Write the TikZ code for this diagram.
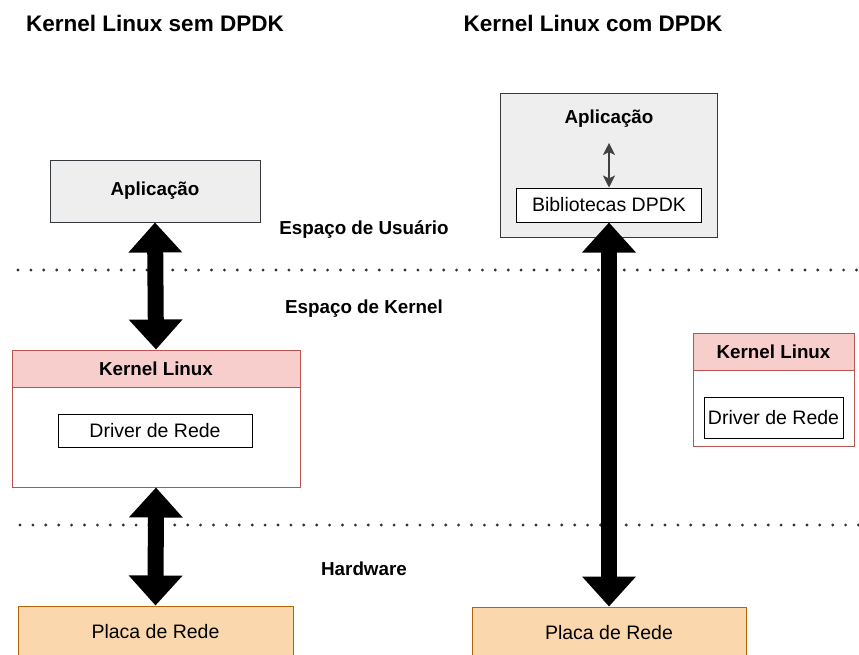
\documentclass[tikz,border=0pt]{standalone}
\usepackage{fontspec}
\setmainfont{Liberation Sans}
\usetikzlibrary{arrows.meta}
\definecolor{grayfill}{HTML}{EEEEEE}
\definecolor{graydraw}{HTML}{36393D}
\definecolor{redfill}{HTML}{F8CECC}
\definecolor{reddraw}{HTML}{B85450}
\definecolor{orangefill}{HTML}{FAD7AC}
\definecolor{orangedraw}{HTML}{B46504}
\begin{document}
\begin{tikzpicture}[x=1pt,y=-1pt,
  box/.style={draw, rectangle, inner sep=0pt, line width=1pt},
  appbox/.style={box, fill=grayfill, draw=graydraw},
  whitebox/.style={box, fill=white, draw=black},
  kerbox/.style={box, fill=white, draw=reddraw},
  kerhead/.style={box, fill=redfill, draw=reddraw},
  nicbox/.style={box, fill=orangefill, draw=orangedraw},
  ttl/.style={font=\fontsize{22.5}{26}\selectfont\bfseries},
  lbl/.style={font=\fontsize{18.8}{22}\selectfont\bfseries},
  txt/.style={font=\fontsize{19.5}{23}\selectfont},
  fat/.style={line width=16pt, {Triangle[width=52pt,length=30pt]}-{Triangle[width=52pt,length=30pt]}},
  thin/.style={line width=1.3pt, draw=black!75, {Stealth[width=12pt,length=12pt,inset=3pt]}-{Stealth[width=12pt,length=12pt,inset=3pt]}},
  dots/.style={line width=3.2pt, dash pattern=on 0pt off 12.9pt, line cap=round, draw=black!80}]
\useasboundingbox (0,0) rectangle (859,654);
\clip (0,0) rectangle (859,654);

% titles
\node[ttl] (tl) at (155,23) {Kernel Linux sem DPDK};
\node[ttl] (tr) at (593,23) {Kernel Linux com DPDK};

% dotted separators
\coordinate (d1a) at (18,270);
\coordinate (d1b) at (862,270);
\coordinate (d2a) at (20,525);
\coordinate (d2b) at (862,525);
\draw[dots] (d1a) -- (d1b);
\draw[dots] (d2a) -- (d2b);

% layer labels
\node[lbl] (us) at (364,230) {Espaço de Usuário};
\node[lbl] (ks) at (364,309) {Espaço de Kernel};
\node[lbl] (hw) at (364,569) {Hardware};

% left stack
\node[appbox, minimum width=210pt, minimum height=62pt] (appL) at (155,191) {};
\node[lbl] (appLt) at (appL) {Aplicação};
\node[kerbox, minimum width=288pt, minimum height=137pt] (kerL) at (156,418.5) {};
\node[kerhead, minimum width=288pt, minimum height=37pt] (kerLh) at (156,368.5) {};
\node[lbl] (kerLt) at (kerLh) {Kernel Linux};
\node[whitebox, minimum width=194pt, minimum height=33pt] (drvL) at (155,430.5) {};
\node[txt] (drvLt) at (drvL) {Driver de Rede};
\node[nicbox, minimum width=275pt, minimum height=52pt] (nicL) at (155.5,632) {};
\node[txt] (nicLt) at (nicL) {Placa de Rede};

% right stack
\node[appbox, minimum width=217pt, minimum height=144pt] (appR) at (608.5,165) {};
\node[lbl] (appRt) at (609,119) {Aplicação};
\node[whitebox, minimum width=185pt, minimum height=34pt] (bib) at (609,205) {};
\node[txt] (bibt) at (bib) {Bibliotecas DPDK};
\coordinate (smtop) at (609,143);
\node[kerbox, minimum width=161pt, minimum height=113pt] (kerR) at (773.5,389.5) {};
\node[kerhead, minimum width=161pt, minimum height=37pt] (kerRh) at (773.5,351.5) {};
\node[lbl] (kerRt) at (kerRh) {Kernel Linux};
\node[whitebox, minimum width=139pt, minimum height=41pt] (drvR) at (773.5,417.5) {};
\node[txt] (drvRt) at (drvR) {Driver de Rede};
\node[nicbox, minimum width=274pt, minimum height=52pt] (nicR) at (609,633) {};
\node[txt] (nicRt) at (nicR) {Placa de Rede};

% connectors
\draw[fat] (appL.south) -- (kerL.north);
\draw[fat] (kerL.south) -- (nicL.north);
\draw[fat] (bib.south) -- (nicR.north);
\draw[thin] (smtop) -- (bib.north);
\end{tikzpicture}
\end{document}
